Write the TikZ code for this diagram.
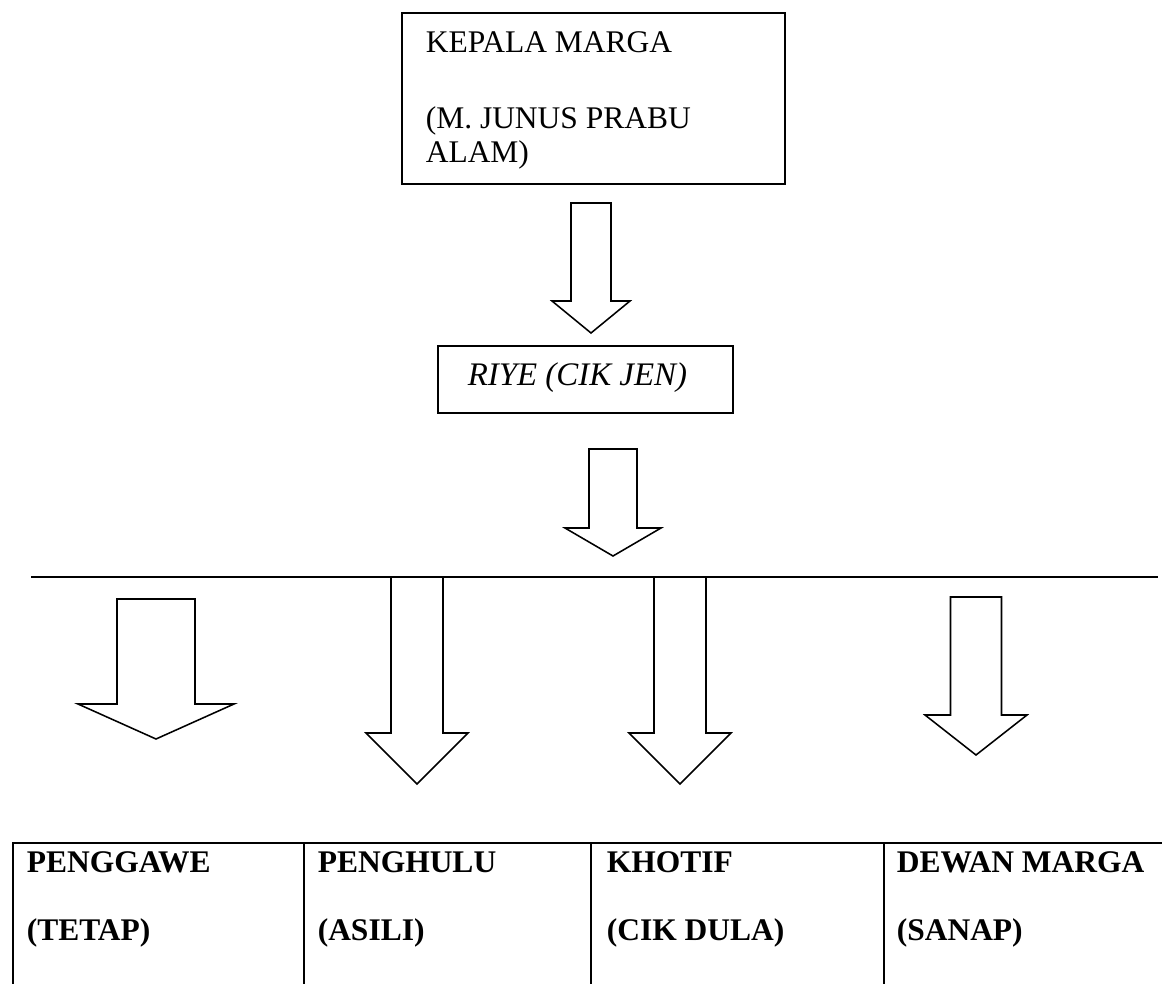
\documentclass[tikz,border=0pt]{standalone}
\usepackage{fontspec}
\setmainfont{Liberation Serif}
\newcommand{\blockarrow}[6]{%
  \draw (#1-#3,#2) -- (#1+#3,#2) -- (#1+#3,#4) -- (#1+#5,#4) -- (#1,#6)
    -- (#1-#5,#4) -- (#1-#3,#4) -- cycle;}
\begin{document}
\begin{tikzpicture}[x=0.25mm,y=-0.25mm,line width=1.1pt,
  box/.style={draw,anchor=north west,inner sep=0pt},
  lbl/.style={inner sep=0pt,anchor=base west,font=\fontsize{22.4}{26}\selectfont},
  boldlbl/.style={lbl,font=\fontsize{22.4}{26}\selectfont\bfseries}]
  \useasboundingbox (0,0) rectangle (1162,984);

  \node (kepala) [box,minimum width=95.75mm,minimum height=42.75mm] at (401,12) {};
  \node (kepala1) [lbl] at (425,52) {KEPALA MARGA};
  \node (kepala2) [lbl] at (425,128) {(M. JUNUS PRABU};
  \node (kepala3) [lbl] at (425,162) {ALAM)};

  \blockarrow{591}{203}{20}{301}{39}{333}

  \node (riye) [box,minimum width=73.75mm,minimum height=16.75mm] at (437,345) {};
  \node (riye1) [lbl,font=\fontsize{23.4}{27}\selectfont\itshape] at (467,385) {RIYE (CIK JEN)};

  \blockarrow{613}{449}{24}{528}{48}{556}

  \coordinate (lineL) at (31,577);
  \coordinate (lineR) at (1158,577);
  \draw[line width=1.3pt] (lineL) -- (lineR);

  \blockarrow{156}{599}{39}{704}{78}{739}
  \blockarrow{417}{577}{26}{733}{51}{784}
  \blockarrow{680}{577}{26}{733}{51}{784}
  \blockarrow{976}{597}{25.5}{715}{51}{755}

  \node (penggawe) [box,minimum width=72.75mm,minimum height=39.5mm] at (12,842) {};
  \node (penghulu) [box,minimum width=71.75mm,minimum height=39.5mm] at (303,842) {};
  \node (khotif) [box,minimum width=73.25mm,minimum height=39.5mm] at (590,842) {};
  \node (dewan) [box,minimum width=73mm,minimum height=39.5mm] at (883,842) {};

  \node (penggawe1) [boldlbl] at (26,872) {PENGGAWE};
  \node (penggawe2) [boldlbl] at (26,940) {(TETAP)};
  \node (penghulu1) [boldlbl] at (317,872) {PENGHULU};
  \node (penghulu2) [boldlbl] at (317,940) {(ASILI)};
  \node (khotif1) [boldlbl] at (606,872) {KHOTIF};
  \node (khotif2) [boldlbl] at (606,940) {(CIK DULA)};
  \node (dewan1) [boldlbl] at (896,872) {DEWAN MARGA};
  \node (dewan2) [boldlbl] at (896,940) {(SANAP)};
\end{tikzpicture}
\end{document}
